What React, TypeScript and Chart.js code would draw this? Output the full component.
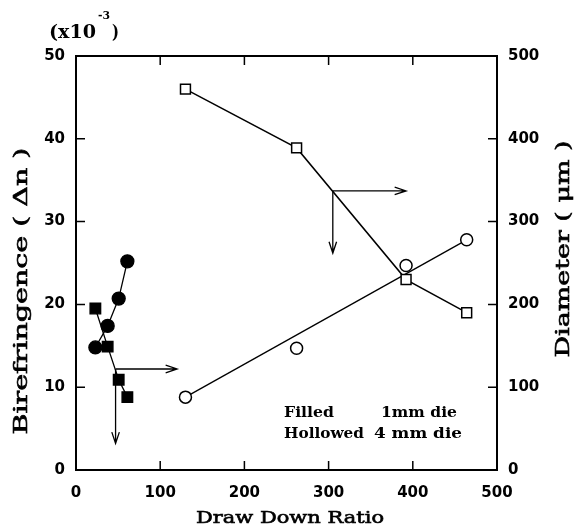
import React, { useEffect, useRef } from "react";
import { Chart, registerables } from "chart.js";

Chart.register(...registerables);

// Small-die (1 mm) samples: birefringence (x10^-3) and fibre diameter (um)
const filledDDR = [23, 37.6, 50.7, 61];
const filledBire = [14.8, 17.4, 20.7, 25.2];
const filledDiam = [195, 149, 109, 88];

// Large-die (4 mm) samples
const hollowDDR = [130, 262, 392, 464];
const hollowBire = [8.8, 14.7, 24.7, 27.8];
const hollowDiam = [460, 389, 230, 190];

// Straight trend line drawn through the 4 mm birefringence points
const trendDDR = [130, 464];
const trendBire = [8.8, 27.8];

// Axis ticks
const ddrTicks = [0, 100, 200, 300, 400, 500];
const bireTicks = [0, 10, 20, 30, 40, 50];
const diamTicks = [0, 100, 200, 300, 400, 500];

// Axis-pointing arrows: origin on a diameter curve, right end (DDR), lower end (diameter units)
const arrowOriginDDR = [47, 305];
const arrowOriginDiam = [122, 337];
const arrowRightDDR = [120, 392];
const arrowDownDiam = [32, 262];

const TICK_FONT = { family: "'DejaVu Sans', sans-serif", size: 15, weight: "bold" as const };
const SERIF = "'DejaVu Serif', serif";

function pts(xs: number[], ys: number[]) {
  return xs.map((x, i) => ({ x, y: ys[i] }));
}

// Typewriter-style text: fixed height, stretched sideways to a given width
function wideText(
  ctx: CanvasRenderingContext2D,
  text: string,
  x: number,
  y: number,
  width: number,
  size: number,
  weight: string,
  align: "left" | "center",
  outline = 0
) {
  ctx.save();
  ctx.font = `${weight} ${size}px ${SERIF}`;
  const w = ctx.measureText(text).width;
  const k = width / w;
  ctx.translate(x, y);
  ctx.scale(k, 1);
  ctx.textAlign = align;
  ctx.textBaseline = "middle";
  ctx.fillText(text, 0, 0);
  if (outline > 0) {
    ctx.lineWidth = outline;
    ctx.strokeText(text, 0, 0);
  }
  ctx.restore();
}

function drawArrow(ctx: CanvasRenderingContext2D, x1: number, y1: number, x2: number, y2: number) {
  const ang = Math.atan2(y2 - y1, x2 - x1);
  const len = 12;
  const spread = 0.32;
  ctx.beginPath();
  ctx.moveTo(x1, y1);
  ctx.lineTo(x2, y2);
  ctx.moveTo(x2 - len * Math.cos(ang - spread), y2 - len * Math.sin(ang - spread));
  ctx.lineTo(x2, y2);
  ctx.lineTo(x2 - len * Math.cos(ang + spread), y2 - len * Math.sin(ang + spread));
  ctx.stroke();
}

const decorations = {
  id: "decorations",
  afterDraw(chart: any) {
    const ctx: CanvasRenderingContext2D = chart.ctx;
    const { left, right, top, bottom } = chart.chartArea;
    const sx = chart.scales.x;
    const sy = chart.scales.y;
    const sd = chart.scales.y2;
    ctx.save();
    ctx.strokeStyle = "#000";
    ctx.fillStyle = "#000";

    // frame
    ctx.lineWidth = 2;
    ctx.strokeRect(left, top, right - left, bottom - top);

    // inward tick marks
    const tl = 9;
    ctx.lineWidth = 1.5;
    ctx.beginPath();
    ddrTicks.slice(1, -1).forEach((v) => {
      const px = sx.getPixelForValue(v);
      ctx.moveTo(px, bottom);
      ctx.lineTo(px, bottom - tl);
      ctx.moveTo(px, top);
      ctx.lineTo(px, top + tl);
    });
    bireTicks.slice(1, -1).forEach((v) => {
      const py = sy.getPixelForValue(v);
      ctx.moveTo(left, py);
      ctx.lineTo(left + tl, py);
    });
    diamTicks.slice(1, -1).forEach((v) => {
      const py = sd.getPixelForValue(v);
      ctx.moveTo(right, py);
      ctx.lineTo(right - tl, py);
    });
    ctx.stroke();

    // arrows
    ctx.lineWidth = 1.3;
    arrowOriginDDR.forEach((d, i) => {
      const ox = sx.getPixelForValue(d);
      const oy = sd.getPixelForValue(arrowOriginDiam[i]);
      drawArrow(ctx, ox, oy, sx.getPixelForValue(arrowRightDDR[i]), oy);
      drawArrow(ctx, ox, oy, ox, sd.getPixelForValue(arrowDownDiam[i]));
    });

    // axis titles
    wideText(ctx, "Draw Down Ratio", 290, 519, 188, 17, "normal", "center", 0.6);

    ctx.save();
    ctx.translate(22, 291);
    ctx.rotate(-Math.PI / 2);
    wideText(ctx, "Birefringence ( \u0394n )", 0, 0, 287, 18, "normal", "center", 0.6);
    ctx.restore();

    ctx.save();
    ctx.translate(564, 249);
    ctx.rotate(-Math.PI / 2);
    wideText(ctx, "Diameter ( \u03bcm )", 0, 0, 217, 18, "normal", "center", 0.6);
    ctx.restore();

    // scale factor label
    wideText(ctx, "(x10", 49, 33, 47, 19, "bold", "left");
    wideText(ctx, ")", 112, 33, 7, 19, "bold", "left");
    wideText(ctx, "-3", 98, 16, 12, 11, "bold", "left");

    // key
    wideText(ctx, "Filled", 284, 413, 50, 14, "bold", "left");
    wideText(ctx, "1mm die", 381, 413, 76, 14, "bold", "left");
    wideText(ctx, "Hollowed", 284, 434, 80, 14, "bold", "left");
    wideText(ctx, "4 mm die", 374, 434, 88, 14, "bold", "left");

    ctx.restore();
  },
};

export default function App() {
  const ref = useRef<HTMLCanvasElement>(null);

  useEffect(() => {
    const canvas = ref.current;
    if (!canvas) return;
    const chart = new Chart(canvas, {
      type: "scatter",
      data: {
        datasets: [
          {
            label: "4 mm birefringence",
            data: pts(hollowDDR, hollowBire),
            yAxisID: "y",
            showLine: false,
            pointStyle: "circle",
            pointRadius: 6,
            backgroundColor: "#fff",
            borderColor: "#000",
            borderWidth: 1.5,
            order: 1,
          },
          {
            label: "4 mm trend",
            data: pts(trendDDR, trendBire),
            yAxisID: "y",
            showLine: true,
            pointRadius: 0,
            borderColor: "#000",
            borderWidth: 1.3,
            order: 9,
          },
          {
            label: "4 mm diameter",
            data: pts(hollowDDR, hollowDiam),
            yAxisID: "y2",
            showLine: true,
            pointStyle: "rect",
            pointRadius: 7,
            backgroundColor: "#fff",
            borderColor: "#000",
            borderWidth: 1.5,
            order: 2,
          },
          {
            label: "1 mm birefringence",
            data: pts(filledDDR, filledBire),
            yAxisID: "y",
            showLine: true,
            pointStyle: "circle",
            pointRadius: 6.5,
            backgroundColor: "#000",
            borderColor: "#000",
            borderWidth: 1.3,
            order: 3,
          },
          {
            label: "1 mm diameter",
            data: pts(filledDDR, filledDiam),
            yAxisID: "y2",
            showLine: true,
            pointStyle: "rect",
            pointRadius: 7.5,
            backgroundColor: "#000",
            borderColor: "#000",
            borderWidth: 1.3,
            order: 4,
          },
        ],
      },
      options: {
        responsive: false,
        animation: false,
        devicePixelRatio: 1,
        layout: { padding: { top: 56, left: 0, right: 0, bottom: 0 } },
        plugins: { legend: { display: false }, tooltip: { enabled: false } },
        scales: {
          x: {
            type: "linear",
            position: "bottom",
            min: 0,
            max: 500,
            afterBuildTicks: (s: any) => {
              s.ticks = ddrTicks.map((value) => ({ value }));
            },
            afterFit: (s: any) => {
              s.height = 57;
            },
            ticks: { color: "#000", font: TICK_FONT, padding: 14, maxRotation: 0 },
            grid: { display: false, drawTicks: false },
            border: { display: false },
          },
          y: {
            type: "linear",
            position: "left",
            min: 0,
            max: 50,
            afterBuildTicks: (s: any) => {
              s.ticks = bireTicks.map((value) => ({ value }));
            },
            afterFit: (s: any) => {
              s.width = 76;
            },
            ticks: { color: "#000", font: TICK_FONT, padding: 11 },
            grid: { display: false, drawTicks: false },
            border: { display: false },
          },
          y2: {
            type: "linear",
            position: "right",
            min: 0,
            max: 500,
            afterBuildTicks: (s: any) => {
              s.ticks = diamTicks.map((value) => ({ value }));
            },
            afterFit: (s: any) => {
              s.width = 85;
            },
            ticks: { color: "#000", font: TICK_FONT, padding: 11 },
            grid: { display: false, drawTicks: false },
            border: { display: false },
          },
        },
      },
      plugins: [decorations],
    });
    return () => chart.destroy();
  }, []);

  return (
    <div style={{ position: "fixed", left: 0, top: 0, width: 582, height: 527, background: "#fff" }}>
      <canvas ref={ref} width={582} height={527} style={{ width: 582, height: 527, display: "block" }} />
    </div>
  );
}
